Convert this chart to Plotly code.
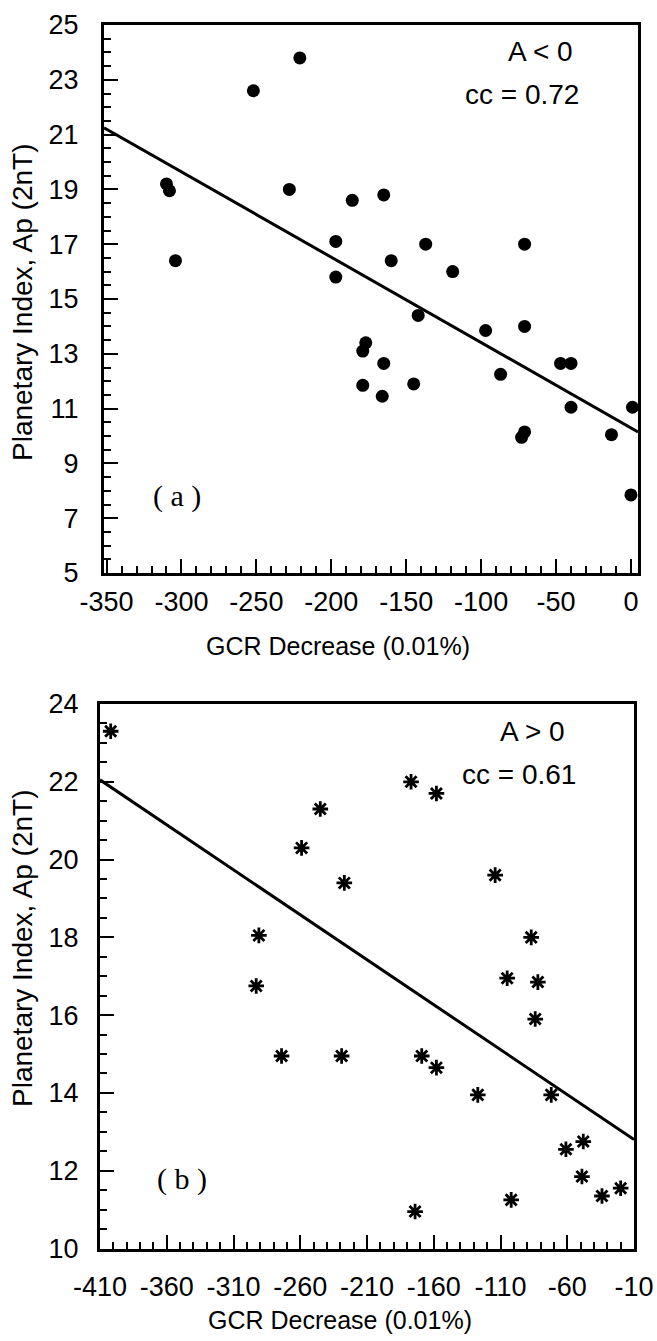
import plotly.graph_objects as go

# ---------------- data: panel (a)  A < 0 ----------------
a_gcr = [-221, -252, -310, -308, -304, -228, -186, -197, -197, -165,
         -137, -71, -160, -119, -142, -177, -179, -179, -165, -166,
         -145, -97, -71, -87, -47, -40, -40, -73, -71, -13, 1, 0]
a_ap = [23.8, 22.6, 19.2, 18.95, 16.4, 19.0, 18.6, 17.1, 15.8, 18.8,
        17.0, 17.0, 16.4, 16.0, 14.4, 13.4, 13.1, 11.85, 12.65, 11.45,
        11.9, 13.85, 14.0, 12.25, 12.65, 12.65, 11.05, 9.95, 10.15, 10.05, 11.05, 7.85]
a_fit_x = [-351.7, 4.7]
a_fit_y = [21.25, 10.15]
a_xticks = [-350, -300, -250, -200, -150, -100, -50, 0]
a_xlabels = ["-350", "-300", "-250", "-200", "-150", "-100", "-50", "0"]
a_yticks = [5, 7, 9, 11, 13, 15, 17, 19, 21, 23, 25]
a_ylabels = ["5", "7", "9", "11", "13", "15", "17", "19", "21", "23", "25"]

# ---------------- data: panel (b)  A > 0 ----------------
b_gcr = [-402, -245, -259, -227, -291, -177, -158, -114, -87, -293,
         -274, -229, -105, -82, -84, -169, -158, -127, -72, -61,
         -48, -49, -34, -20, -102, -174]
b_ap = [23.3, 21.3, 20.3, 19.4, 18.05, 22.0, 21.7, 19.6, 18.0, 16.75,
        14.95, 14.95, 16.95, 16.85, 15.9, 14.95, 14.65, 13.95, 13.95, 12.55,
        12.75, 11.85, 11.35, 11.55, 11.25, 10.95]
b_fit_x = [-410, -10]
b_fit_y = [22.05, 12.8]
b_xticks = [-410, -360, -310, -260, -210, -160, -110, -60, -10]
b_xlabels = ["-410", "-360", "-310", "-260", "-210", "-160", "-110", "-60", "-10"]
b_yticks = [10, 12, 14, 16, 18, 20, 22, 24]
b_ylabels = ["10", "12", "14", "16", "18", "20", "22", "24"]

W, H = 657, 1341
FONT = "Liberation Sans, Arial, Helvetica, sans-serif"
SERIF = "Liberation Serif, Times New Roman, serif"


def px(x):
    return x / W


def py(y):
    return 1 - y / H


fig = go.Figure()

fig.add_trace(go.Scatter(x=a_gcr, y=a_ap, mode="markers", xaxis="x", yaxis="y",
                         marker=dict(symbol="circle", size=13, color="black"),
                         showlegend=False, cliponaxis=False))
fig.add_trace(go.Scatter(x=a_fit_x, y=a_fit_y, mode="lines", xaxis="x", yaxis="y",
                         line=dict(color="black", width=3), showlegend=False))

fig.add_trace(go.Scatter(x=b_gcr, y=b_ap, mode="markers", xaxis="x2", yaxis="y2",
                         marker=dict(symbol="asterisk", size=13, color="black",
                                     line=dict(color="black", width=2.8)),
                         showlegend=False, cliponaxis=False))
fig.add_trace(go.Scatter(x=b_fit_x, y=b_fit_y, mode="lines", xaxis="x2", yaxis="y2",
                         line=dict(color="black", width=3), showlegend=False))

axis_common = dict(showline=True, linecolor="black", linewidth=3, mirror=True,
                   ticks="inside", ticklen=14, tickwidth=2, tickcolor="black",
                   showgrid=False, zeroline=False, automargin=False,
                   tickfont=dict(family=FONT, size=27, color="black"))


def minor(t0, dt):
    return dict(ticks="inside", ticklen=7, tickwidth=2, tickcolor="black",
                tick0=t0, dtick=dt, showgrid=False)


fig.update_layout(
    width=W, height=H,
    margin=dict(l=0, r=0, t=0, b=0),
    paper_bgcolor="white", plot_bgcolor="white",
    xaxis=dict(axis_common, domain=[px(104), px(638)], range=[-351.7, 4.7],
               tickmode="array", tickvals=a_xticks, ticktext=a_xlabels, anchor="y",
               ticklabelstandoff=3, minor=minor(-350, 10)),
    yaxis=dict(axis_common, domain=[py(573), py(25)], range=[5, 25],
               tickmode="array", tickvals=a_yticks, ticktext=a_ylabels, anchor="x",
               ticklabelstandoff=17, minor=minor(5, 0.5)),
    xaxis2=dict(axis_common, domain=[px(100), px(634)], range=[-410, -10],
                tickmode="array", tickvals=b_xticks, ticktext=b_xlabels, anchor="y2",
                ticklabelstandoff=12, minor=minor(-410, 10)),
    yaxis2=dict(axis_common, domain=[py(1248.5), py(704)], range=[10, 24],
                tickmode="array", tickvals=b_yticks, ticktext=b_ylabels, anchor="x2",
                ticklabelstandoff=13, minor=minor(10, 0.5)),
)


def note(text, x, y, size, family=FONT, angle=0):
    fig.add_annotation(text=text, x=px(x), y=py(y), xref="paper", yref="paper",
                       xanchor="center", yanchor="middle", showarrow=False,
                       textangle=angle, font=dict(family=family, size=size, color="black"))


# panel (a) texts
note("A &lt; 0", 540, 52, 28)
note("cc = 0.72", 522, 94, 28)
note("( a )", 177, 496, 30, family=SERIF)
note("GCR Decrease (0.01%)", 338, 646, 25)
note("Planetary Index, Ap (2nT)", 22, 302, 28, angle=-90)

# panel (b) texts
note("A &gt; 0", 532, 731, 28)
note("cc = 0.61", 519, 774, 28)
note("( b )", 182, 1179, 30, family=SERIF)
note("GCR Decrease (0.01%)", 340, 1320, 25)
note("Planetary Index, Ap (2nT)", 22, 948, 28, angle=-90)

fig.write_html(
    "out.html",
    config={"displayModeBar": False},
    post_script="document.body.style.margin='0';document.body.style.overflow='hidden';",
)
